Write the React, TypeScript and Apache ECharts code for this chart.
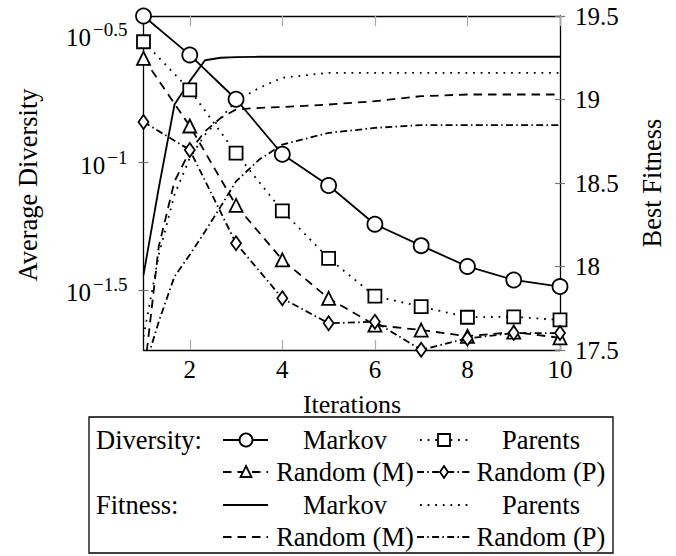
import React, { useEffect, useRef } from 'react';
import * as echarts from 'echarts';

// ---- data ----
const iterations = [1, 2, 3, 4, 5, 6, 7, 8, 9, 10];
const divMarkov = [0.3767, 0.2649, 0.1774, 0.1079, 0.0813, 0.0573, 0.0472, 0.0391, 0.0346, 0.0326];
const divParents = [0.2985, 0.1932, 0.1089, 0.0646, 0.0421, 0.0299, 0.0272, 0.0247, 0.0248, 0.0241];
const divRandomM = [0.257, 0.1393, 0.0679, 0.0415, 0.0293, 0.023, 0.022, 0.0208, 0.0216, 0.0205];
const divRandomP = [0.1445, 0.1122, 0.0482, 0.0293, 0.0234, 0.0237, 0.0184, 0.0204, 0.0214, 0.0214];

const fitnessX = [1, 1.33, 1.67, 2, 2.33, 2.67, 3, 3.5, 4, 5, 6, 7, 8, 9, 10];
const fitMarkov = [17.95, 18.47, 18.97, 19.11, 19.235, 19.25, 19.254, 19.256, 19.256, 19.256, 19.256, 19.256, 19.256, 19.256, 19.256];
const fitParents = [17.58, 18.07, 18.43, 18.65, 18.79, 18.89, 18.99, 19.07, 19.13, 19.16, 19.16, 19.16, 19.16, 19.16, 19.16];
const fitRandomM = [17.32, 18.12, 18.51, 18.69, 18.81, 18.89, 18.94, 18.95, 18.955, 18.97, 18.99, 19.02, 19.03, 19.03, 19.03];
const fitRandomP = [17.37, 17.67, 17.94, 18.07, 18.21, 18.36, 18.51, 18.64, 18.73, 18.8, 18.83, 18.847, 18.847, 18.847, 18.847];

const xTickValues = [2, 4, 6, 8, 10];
const divTickExponents = [-0.5, -1, -1.5];
const divMinExp = -1.736;
const divMaxExp = -0.424;
const fitMin = 17.5;
const fitMax = 19.5;

const FONT = 'Liberation Serif';
const TXT = 26.5;
const DASHED = [8.5, 6];
const DOTTED = [1.8, 5.8];
const DASHDOT = [7, 3.3, 1.5, 3.3];
const LW = 1.8;

const pairs = (xs: number[], ys: number[]) => xs.map((x, i) => [x, ys[i]]);

export default function App() {
  const ref = useRef<HTMLDivElement>(null);
  useEffect(() => {
    if (!ref.current) return;
    const chart = echarts.init(ref.current, null, { renderer: 'svg' });
    const divTicks = divTickExponents.map((e) => Math.pow(10, e));
    const divMin = Math.pow(10, divMinExp);
    const divMax = Math.pow(10, divMaxExp);

    const xBase = {
      type: 'value',
      min: 1,
      max: 10,
      splitLine: { show: false },
      axisLine: { show: true, lineStyle: { color: '#000', width: 1.3 } },
      axisTick: { show: true, inside: true, length: 10, customValues: xTickValues, lineStyle: { color: '#aaa', width: 1.2 } },
    };

    const divSeries = (name: string, data: number[], symbol: string, size: any, dash: any) => ({
      name,
      type: 'line',
      xAxisIndex: 0,
      yAxisIndex: 0,
      data: pairs(iterations, data),
      symbol,
      symbolSize: size,
      showSymbol: true,
      silent: true,
      z: 5,
      lineStyle: { color: '#000', width: LW, type: dash },
      itemStyle: { color: '#fff', borderColor: '#000', borderWidth: LW },
    });
    const fitSeries = (name: string, data: number[], dash: any) => ({
      name,
      type: 'line',
      xAxisIndex: 0,
      yAxisIndex: 1,
      data: pairs(fitnessX, data),
      symbol: 'none',
      showSymbol: false,
      silent: true,
      z: 3,
      lineStyle: { color: '#000', width: LW, type: dash },
    });

    const rowY = [440, 472, 505, 537];
    const c2 = [223, 268];
    const c4 = [420, 468];
    const txt = (text: string, x: number, y: number, align: string) => ({
      type: 'text',
      x,
      y,
      style: { text, fill: '#000', fontFamily: FONT, fontSize: TXT, align, verticalAlign: 'middle' },
    });
    const ln = (x1: number, x2: number, y: number, dash: any) => ({
      type: 'line',
      shape: { x1, y1: y, x2, y2: y },
      style: { stroke: '#000', lineWidth: LW, lineDash: dash },
    });
    const mstyle = { fill: '#fff', stroke: '#000', lineWidth: LW };

    chart.setOption({
      animation: false,
      textStyle: { fontFamily: FONT },
      grid: { left: 143.5, right: 116, top: 16, bottom: 206, containLabel: false },
      xAxis: [
        {
          ...xBase,
          position: 'bottom',
          axisLabel: {
            show: true,
            customValues: xTickValues,
            margin: 7,
            color: '#000',
            fontFamily: FONT,
            fontSize: 25,
          },
        },
        {
          ...xBase,
          position: 'top',
          axisLabel: { show: false, customValues: xTickValues },
        },
      ],
      yAxis: [
        {
          type: 'log',
          logBase: 10,
          min: divMin,
          max: divMax,
          position: 'left',
          splitLine: { show: false },
          axisLine: { show: true, lineStyle: { color: '#000', width: 1.3 } },
          axisTick: { show: true, inside: false, length: 5, customValues: divTicks, lineStyle: { color: '#777', width: 1.2 } },
          axisLabel: {
            show: true,
            customValues: divTicks,
            margin: 16,
            formatter: (v: number) => {
              const e = Math.round(Math.log10(v) * 10) / 10;
              return '{b|10}{s|' + String(e).replace('-', '\u2212') + '}';
            },
            rich: {
              b: { fontFamily: FONT, fontSize: 25, color: '#000', lineHeight: 30, verticalAlign: 'bottom' },
              s: { fontFamily: FONT, fontSize: 19, color: '#000', lineHeight: 15, verticalAlign: 'top', padding: [0, 0, 0, 2] },
            },
          },
        },
        {
          type: 'value',
          min: fitMin,
          max: fitMax,
          interval: 0.5,
          position: 'right',
          splitLine: { show: false },
          axisLine: { show: true, lineStyle: { color: '#000', width: 1.3 } },
          axisTick: { show: true, inside: false, length: 5, lineStyle: { color: '#777', width: 1.2 } },
          axisLabel: { show: true, margin: 15, color: '#000', fontFamily: FONT, fontSize: 25 },
        },
        {
          type: 'log',
          logBase: 10,
          min: divMin,
          max: divMax,
          position: 'left',
          splitLine: { show: false },
          axisLine: { show: false },
          axisTick: { show: true, inside: true, length: 5, customValues: divTicks, lineStyle: { color: '#777', width: 1.2 } },
          axisLabel: { show: false, customValues: divTicks },
        },
        {
          type: 'value',
          min: fitMin,
          max: fitMax,
          interval: 0.5,
          position: 'right',
          splitLine: { show: false },
          axisLine: { show: false },
          axisTick: { show: true, inside: true, length: 5, lineStyle: { color: '#777', width: 1.2 } },
          axisLabel: { show: false },
        },
      ],
      series: [
        fitSeries('Fitness Markov', fitMarkov, 'solid'),
        fitSeries('Fitness Parents', fitParents, DOTTED),
        fitSeries('Fitness Random (M)', fitRandomM, DASHED),
        fitSeries('Fitness Random (P)', fitRandomP, DASHDOT),
        divSeries('Diversity Markov', divMarkov, 'circle', 15, 'solid'),
        divSeries('Diversity Parents', divParents, 'rect', 13, DOTTED),
        divSeries('Diversity Random (M)', divRandomM, 'triangle', 13, DASHED),
        divSeries('Diversity Random (P)', divRandomP, 'diamond', [10, 14], DASHDOT),
      ],
      graphic: [
        {
          type: 'text',
          x: 28,
          y: 185,
          rotation: Math.PI / 2,
          style: { text: 'Average Diversity', fill: '#000', fontFamily: FONT, fontSize: TXT, align: 'center', verticalAlign: 'middle' },
        },
        {
          type: 'text',
          x: 652,
          y: 183,
          rotation: Math.PI / 2,
          style: { text: 'Best Fitness', fill: '#000', fontFamily: FONT, fontSize: TXT, align: 'center', verticalAlign: 'middle' },
        },
        {
          type: 'text',
          x: 352,
          y: 404,
          style: { text: 'Iterations', fill: '#000', fontFamily: FONT, fontSize: 26, align: 'center', verticalAlign: 'middle' },
        },
        {
          type: 'rect',
          shape: { x: 89, y: 417, width: 524, height: 136 },
          style: { fill: 'none', stroke: '#000', lineWidth: 1.3 },
        },
        txt('Diversity:', 96, rowY[0], 'left'),
        txt('Fitness:', 96, rowY[2], 'left'),
        txt('Markov', 345, rowY[0], 'center'),
        txt('Random (M)', 345, rowY[1], 'center'),
        txt('Markov', 345, rowY[2], 'center'),
        txt('Random (M)', 345, rowY[3], 'center'),
        txt('Parents', 541, rowY[0], 'center'),
        txt('Random (P)', 541, rowY[1], 'center'),
        txt('Parents', 541, rowY[2], 'center'),
        txt('Random (P)', 541, rowY[3], 'center'),
        ln(c2[0], c2[1], rowY[0], null),
        { type: 'circle', shape: { cx: 246, cy: rowY[0], r: 6.5 }, style: mstyle },
        ln(c4[0], c4[1], rowY[0], DOTTED),
        { type: 'rect', shape: { x: 438, y: rowY[0] - 6, width: 12, height: 12 }, style: mstyle },
        ln(c2[0], c2[1], rowY[1], DASHED),
        {
          type: 'polygon',
          shape: { points: [[246, rowY[1] - 6], [251.5, rowY[1] + 5], [240.5, rowY[1] + 5]] },
          style: mstyle,
        },
        ln(c4[0] - 3, c4[1] + 2, rowY[1], DASHDOT),
        {
          type: 'polygon',
          shape: { points: [[444, rowY[1] - 6], [448, rowY[1]], [444, rowY[1] + 6], [440, rowY[1]]] },
          style: mstyle,
        },
        ln(c2[0], c2[1], rowY[2], null),
        ln(c4[0], c4[1], rowY[2], DOTTED),
        ln(c2[0], c2[1], rowY[3], DASHED),
        ln(c4[0] - 3, c4[1] + 2, rowY[3], DASHDOT),
      ],
    });
    return () => chart.dispose();
  }, []);
  return (
    <div
      ref={ref}
      style={{ position: 'fixed', left: 0, top: 0, width: 676, height: 556, background: '#fff' }}
    />
  );
}
